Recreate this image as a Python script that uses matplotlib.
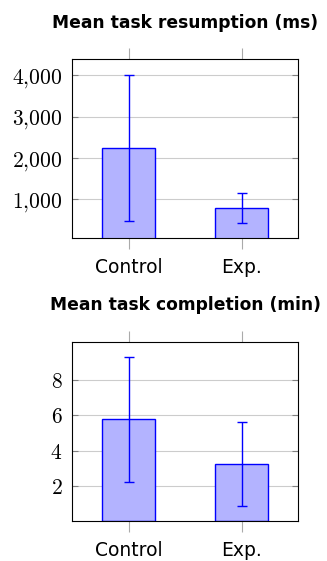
import matplotlib.pyplot as plt

# data
groups = ['Control', 'Exp.']
resume_mean = [2250, 790]
resume_err = [1770, 370]
complete_mean = [5.78, 3.24]
complete_err = [3.55, 2.39]

resume_ticks = [1000, 2000, 3000, 4000]
resume_ticklabels = ['$1{,}000$', '$2{,}000$', '$3{,}000$', '$4{,}000$']
complete_ticks = [2, 4, 6, 8]
complete_ticklabels = ['$2$', '$4$', '$6$', '$8$']

plt.rcParams['mathtext.fontset'] = 'cm'

fig = plt.figure(figsize=(3.27, 5.61), dpi=100)


def draw_panel(rect, means, errs, yticks, yticklabels, ylim, title, title_y):
    ax = fig.add_axes(rect)
    x = list(range(len(groups)))
    ax.bar(x, means, width=0.47, color='#b3b3ff', edgecolor='#0000ff',
           linewidth=1.0, zorder=3)
    ax.errorbar(x, means, yerr=errs, fmt='none', ecolor='#0000ff',
                elinewidth=1.0, capsize=3.8, capthick=1.0, zorder=4)
    ax.set_xlim(-0.5, 1.5)
    ax.set_ylim(*ylim)
    ax.set_xticks(x)
    ax.set_xticklabels(groups, fontsize=13.5)
    ax.set_yticks(yticks)
    ax.set_yticklabels(yticklabels, fontsize=15.5)
    ax.grid(axis='y', color='#cccccc', linewidth=0.8, zorder=0)
    ax.tick_params(axis='x', direction='out', length=8, width=0.8,
                   color='#aaaaaa', top=True, bottom=True, pad=6.5)
    ax.tick_params(axis='y', direction='in', length=4, width=0.8,
                   color='#808080', left=True, right=True, pad=7)
    for s in ax.spines.values():
        s.set_linewidth(0.8)
        s.set_color('black')
        s.set_zorder(5)
    fig.text(rect[0] + rect[2] / 2, title_y, title, ha='center', va='center',
             fontsize=12.3, fontweight='bold')
    return ax


draw_panel([0.2211, 0.5752, 0.6911, 0.3191], resume_mean, resume_err,
           resume_ticks, resume_ticklabels, (55, 4390),
           'Mean task resumption (ms)', 0.9595)
draw_panel([0.2211, 0.0718, 0.6911, 0.318], complete_mean, complete_err,
           complete_ticks, complete_ticklabels, (0, 10.17),
           'Mean task completion (min)', 0.4563)

fig.savefig('out.png', dpi=100)
